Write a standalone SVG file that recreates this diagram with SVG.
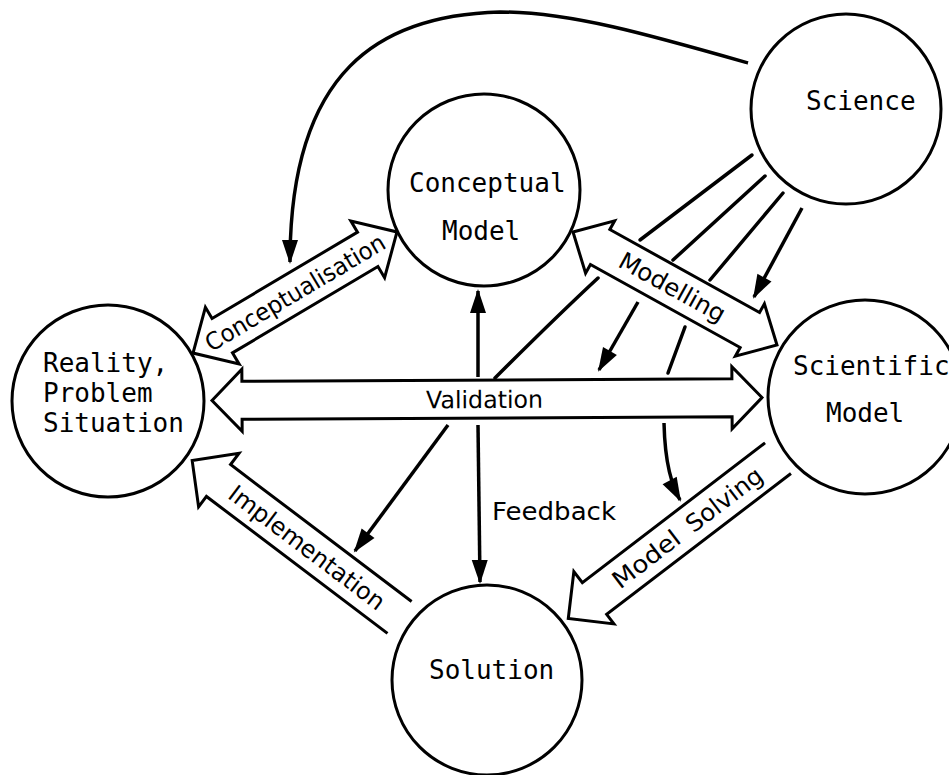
<svg xmlns="http://www.w3.org/2000/svg" width="949" height="775" viewBox="0 0 949 775">
  <style>
    .node circle { fill: #fff; stroke: #000; stroke-width: 3; }
    .node text { font-family: "DejaVu Sans Mono", "Liberation Mono", monospace; font-size: 26px; fill: #000; }
    .band { fill: #fff; stroke: #000; stroke-width: 3; stroke-linejoin: miter; }
    .open { fill: none; stroke: #000; stroke-width: 3; stroke-linejoin: miter; }
    .lbl { font-family: "DejaVu Sans", "Liberation Sans", sans-serif; font-size: 24px; fill: #000; text-anchor: middle; }
    .ray { fill: none; stroke: #000; stroke-width: 3.5; stroke-linecap: round; }
    .ray.tip { stroke-linecap: butt; marker-end: url(#head); }
  </style>
  <defs>
    <marker id="head" markerUnits="userSpaceOnUse" orient="auto" refX="0" refY="0" markerWidth="30" markerHeight="20" overflow="visible">
      <path d="M2,0 L-22,-8 L-22,8 Z" fill="#000"/>
    </marker>
  </defs>
  <rect width="949" height="775" fill="#fff"/>

  <g id="connectors">
    <!-- influence of science on the other stages -->
    <path class="ray tip" d="M748,63 C650,35 570,12 500,12 C380,15 290,70 290,262"/>
    <path class="ray" d="M752,155 L640,240"/>
    <path class="ray" d="M598,278 Q555,318 495,378"/>
    <path class="ray tip" d="M448,425 L355,551"/>
    <path class="ray" d="M765,176 L673,260"/>
    <path class="ray tip" d="M638,302 L599,370"/>
    <path class="ray" d="M783,193 L710,280"/>
    <path class="ray" d="M685,327 L668,373"/>
    <path class="ray tip" d="M664,423 C665,465 672,485 680,500"/>
    <path class="ray tip" d="M802,208 L754,297"/>
    <!-- vertical feedback arrows -->
    <path class="ray tip" d="M478,377 L478,291"/>
    <path class="ray tip" d="M478,425 L480,582"/>

    <!-- Conceptualisation -->
    <g transform="translate(295,292.5) rotate(-30.7)">
      <polygon class="band" points="-118.6,0 -84.6,-33 -84.6,-20 84.6,-20 84.6,-33 118.6,0 84.6,33 84.6,20 -84.6,20 -84.6,33"/>
      <text class="lbl" x="0" y="8.5" textLength="205" lengthAdjust="spacingAndGlyphs">Conceptualisation</text>
    </g>
    <!-- Modelling -->
    <g transform="translate(675,288.5) rotate(29)">
      <polygon class="band" points="-116.6,0 -85.6,-30 -85.6,-20 85.6,-20 85.6,-30 116.6,0 85.6,30 85.6,20 -85.6,20 -85.6,30"/>
      <text class="lbl" x="-3" y="8.5" textLength="118" lengthAdjust="spacingAndGlyphs">Modelling</text>
    </g>
    <!-- Validation -->
    <g transform="translate(487,399) rotate(-0.3)">
      <polygon class="band" points="-275,0 -245,-31 -245,-19 245,-19 245,-31 275,0 245,31 245,19 -245,19 -245,31"/>
      <text class="lbl" x="-2.5" y="9" textLength="117" lengthAdjust="spacingAndGlyphs">Validation</text>
    </g>
    <!-- Implementation -->
    <g transform="translate(218.5,480.5) rotate(37.1)">
      <path class="open" d="M227,-20 L0,-20 L0,-34 L-33,0 L0,33 L0,20 L227,20"/>
      <text class="lbl" x="111" y="8.5" textLength="189" lengthAdjust="spacingAndGlyphs">Implementation</text>
    </g>
    <!-- Model Solving -->
    <g transform="translate(594.5,598.5) rotate(-37.4)">
      <path class="open" d="M230,-20 L0,-20 L0,-34 L-33,0 L0,32 L0,20 L232,20"/>
      <text class="lbl" x="65" y="8.5" textLength="79" lengthAdjust="spacingAndGlyphs">Model</text>
      <text class="lbl" x="163" y="8.5" textLength="90" lengthAdjust="spacingAndGlyphs">Solving</text>
    </g>
    <text class="lbl" x="492" y="520" style="text-anchor:start" textLength="124" lengthAdjust="spacingAndGlyphs">Feedback</text>
  </g>

  <g id="science" class="node">
    <circle cx="846" cy="109" r="95"/>
    <text x="806" y="110">Science</text>
  </g>
  <g id="conceptual-model" class="node">
    <circle cx="484" cy="190" r="96"/>
    <text x="409" y="192">Conceptual</text>
    <text x="442" y="240">Model</text>
  </g>
  <g id="reality" class="node">
    <circle cx="108" cy="401" r="96"/>
    <text x="43" y="372">Reality,</text>
    <text x="43" y="402">Problem</text>
    <text x="43" y="432">Situation</text>
  </g>
  <g id="scientific-model" class="node">
    <circle cx="865" cy="397" r="97"/>
    <text x="793" y="375">Scientific</text>
    <text x="826" y="422">Model</text>
  </g>
  <g id="solution" class="node">
    <circle cx="487" cy="680" r="95"/>
    <text x="429" y="679">Solution</text>
  </g>
</svg>
